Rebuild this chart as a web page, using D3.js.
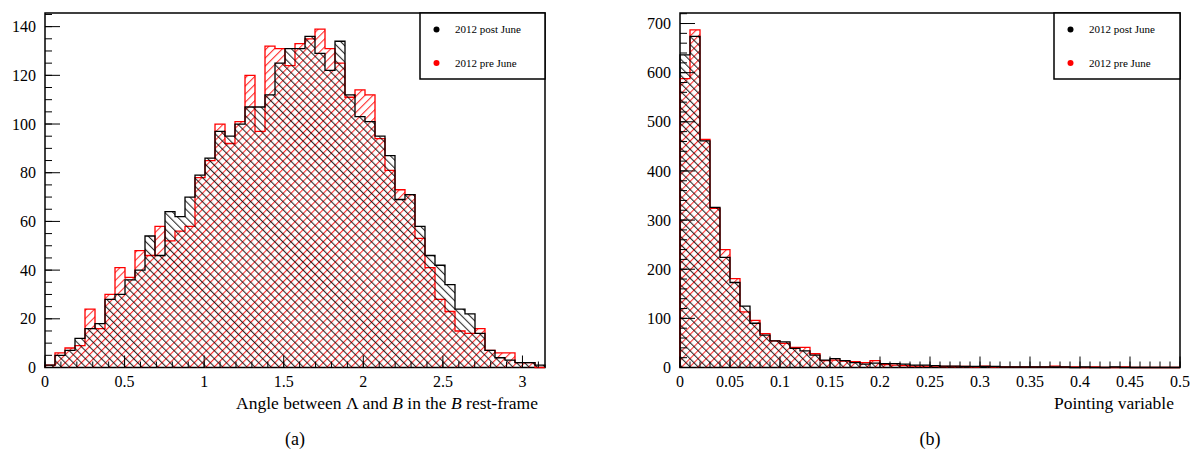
<!DOCTYPE html>
<html>
<head>
<meta charset="utf-8">
<script src="https://cdn.jsdelivr.net/npm/d3@7"></script>
<style>
  body { margin: 0; background: #fff; }
  svg { display: block; }
</style>
</head>
<body>
<svg id="chart" width="1192" height="454"></svg>
<script>
// ---- data -----------------------------------------------------------------
const seriesNames = ["2012 post June", "2012 pre June"];

// (a) angle between Lambda and B in the B rest frame, 50 bins over [0, pi]
const angleRange = [0, Math.PI];
const anglePostJune = [1, 5, 7, 12, 16, 18, 28, 30, 36, 40,
                       54, 46, 64, 62, 70, 79, 86, 97, 95, 100,
                       107, 107, 112, 125, 131, 131, 136, 129, 122, 134,
                       112, 103, 101, 95, 87, 69, 71, 58, 46, 42,
                       34, 24, 22, 14, 7, 4, 3, 2, 2, 1];
const anglePreJune  = [1, 6, 8, 9, 24, 16, 30, 41, 37, 48,
                       46, 58, 52, 56, 58, 78, 85, 100, 92, 101,
                       120, 97, 132, 131, 124, 133, 135, 139, 131, 125,
                       111, 114, 112, 94, 81, 73, 71, 53, 41, 28,
                       23, 15, 14, 16, 7, 6, 6, 2, 2, 0];
const angleXTicks = [0, 0.5, 1, 1.5, 2, 2.5, 3];
const angleYTicks = [0, 20, 40, 60, 80, 100, 120, 140];

// (b) pointing variable, 50 bins over [0, 0.5]
const pointingRange = [0, 0.5];
const pointingPostJune = [636, 674, 461, 326, 224, 173, 125, 90, 66, 54,
                          52, 39, 34, 25, 15, 18, 14, 10, 7, 9,
                          8, 8, 7, 5, 5, 4, 3, 3, 2, 2,
                          2, 2, 1, 1, 1, 1, 1, 1, 1, 0,
                          1, 0, 0, 1, 0, 0, 0, 0, 0, 0];
const pointingPreJune  = [588, 687, 464, 324, 240, 181, 113, 96, 69, 54,
                          49, 41, 41, 28, 14, 15, 13, 12, 10, 14,
                          6, 5, 4, 3, 3, 3, 2, 2, 2, 1,
                          3, 1, 1, 1, 1, 1, 1, 3, 1, 1,
                          0, 1, 0, 0, 1, 0, 0, 0, 0, 0];
const pointingXTicks = [0, 0.05, 0.1, 0.15, 0.2, 0.25, 0.3, 0.35, 0.4, 0.45, 0.5];
const pointingYTicks = [0, 100, 200, 300, 400, 500, 600, 700];

// ---- drawing --------------------------------------------------------------
const FONT = '"Liberation Serif"';
const svg = d3.select("#chart");
const defs = svg.append("defs");

// ROOT-style hatch fills: "\" for post June, "/" for pre June
function hatch(id, color, angle) {
  const p = defs.append("pattern")
    .attr("id", id)
    .attr("patternUnits", "userSpaceOnUse")
    .attr("width", 5.7).attr("height", 5.7)
    .attr("patternTransform", `rotate(${angle})`);
  p.append("line")
    .attr("x1", 0.6).attr("y1", -1).attr("x2", 0.6).attr("y2", 7)
    .attr("stroke", color).attr("stroke-width", 0.9);
}
hatch("hatchPost", "#000", -45);
hatch("hatchPre", "#f00", 45);

const fmt = v => String(+v.toFixed(3));

function panel(cfg) {
  const g = svg.append("g");
  const x = d3.scaleLinear().domain(cfg.xDomain).range([cfg.left, cfg.right]);
  const y = d3.scaleLinear().domain([0, cfg.yMax]).range([cfg.bottom, cfg.top]);

  // frame
  g.append("rect")
    .attr("x", cfg.left).attr("y", cfg.top)
    .attr("width", cfg.right - cfg.left).attr("height", cfg.bottom - cfg.top)
    .attr("fill", "none").attr("stroke", "#000").attr("stroke-width", 1.5);

  // step outline of a histogram
  const nb = cfg.series[0].length;
  const w = (cfg.xDomain[1] - cfg.xDomain[0]) / nb;
  const stepPath = vals => {
    const pts = [[cfg.xDomain[0], 0]];
    vals.forEach((v, i) => {
      pts.push([cfg.xDomain[0] + i * w, v]);
      pts.push([cfg.xDomain[0] + (i + 1) * w, v]);
    });
    pts.push([cfg.xDomain[1], 0]);
    return d3.line().x(d => x(d[0])).y(d => y(d[1]))(pts);
  };

  // pre June first, post June on top
  g.append("path").attr("d", stepPath(cfg.series[1]))
    .attr("fill", "url(#hatchPre)").attr("stroke", "#f00").attr("stroke-width", 1.3);
  g.append("path").attr("d", stepPath(cfg.series[0]))
    .attr("fill", "url(#hatchPost)").attr("stroke", "#000").attr("stroke-width", 1.3);

  // x axis ticks (inside the frame) and labels
  const xMinor = d3.range(0, Math.floor((cfg.xDomain[1] - cfg.xDomain[0]) / cfg.xMinorStep + 1e-6) + 1)
    .map(i => cfg.xDomain[0] + i * cfg.xMinorStep);
  g.selectAll(null).data(xMinor).join("line")
    .attr("x1", d => x(d)).attr("x2", d => x(d))
    .attr("y1", cfg.bottom).attr("y2", cfg.bottom - cfg.xMinorLen)
    .attr("stroke", "#000").attr("stroke-width", 1);
  g.selectAll(null).data(cfg.xTicks).join("line")
    .attr("x1", d => x(d)).attr("x2", d => x(d))
    .attr("y1", cfg.bottom).attr("y2", cfg.bottom - cfg.xMajorLen)
    .attr("stroke", "#000").attr("stroke-width", 1);
  g.selectAll(null).data(cfg.xTicks).join("text")
    .attr("x", d => x(d)).attr("y", cfg.bottom + 19)
    .attr("text-anchor", "middle").style("font-size", "16px")
    .text(fmt);

  // y axis ticks and labels
  const yMinor = d3.range(0, Math.floor(cfg.yMax / cfg.yMinorStep) + 1).map(i => i * cfg.yMinorStep);
  g.selectAll(null).data(yMinor).join("line")
    .attr("x1", cfg.left).attr("x2", cfg.left + cfg.yMinorLen)
    .attr("y1", d => y(d)).attr("y2", d => y(d))
    .attr("stroke", "#000").attr("stroke-width", 1);
  g.selectAll(null).data(cfg.yTicks).join("line")
    .attr("x1", cfg.left).attr("x2", cfg.left + cfg.yMajorLen)
    .attr("y1", d => y(d)).attr("y2", d => y(d))
    .attr("stroke", "#000").attr("stroke-width", 1);
  g.selectAll(null).data(cfg.yTicks).join("text")
    .attr("x", cfg.left - 9).attr("y", d => y(d)).attr("dy", "0.35em")
    .attr("text-anchor", "end").style("font-size", "16px")
    .text(fmt);

  // axis title
  const t = g.append("text")
    .attr("x", cfg.titleX).attr("y", 409)
    .attr("text-anchor", "end").style("font-size", "17.5px");
  cfg.title.forEach(([s, it]) => {
    const ts = t.append("tspan").text(s);
    if (it) ts.style("font-style", "italic");
  });

  // sub-figure label
  g.append("text")
    .attr("x", cfg.subX).attr("y", 445)
    .attr("text-anchor", "middle").style("font-size", "18px")
    .text(cfg.sub);

  // legend
  const lg = g.append("g");
  lg.append("rect")
    .attr("x", cfg.legendX).attr("y", cfg.top)
    .attr("width", cfg.right - cfg.legendX).attr("height", 66)
    .attr("fill", "#fff").attr("stroke", "#000").attr("stroke-width", 1.5);
  const colors = ["#000", "#f00"];
  seriesNames.forEach((name, i) => {
    const cy = cfg.top + 16.5 + i * 33.5;
    lg.append("circle")
      .attr("cx", cfg.legendX + 16.5).attr("cy", cy).attr("r", 3)
      .attr("fill", colors[i]);
    lg.append("text")
      .attr("x", cfg.legendX + 35).attr("y", cy).attr("dy", "0.35em")
      .style("font-size", "11px")
      .text(name);
  });
}

panel({
  left: 45, right: 545, top: 13, bottom: 367.5,
  xDomain: angleRange, yMax: 145.6,
  series: [anglePostJune, anglePreJune],
  xTicks: angleXTicks, xMinorStep: 0.1, xMajorLen: 12, xMinorLen: 6,
  yTicks: angleYTicks, yMinorStep: 5, yMajorLen: 15, yMinorLen: 7,
  title: [["Angle between \u039B and "], ["B", true], [" in the "], ["B", true], [" rest-frame"]],
  titleX: 538, sub: "(a)", subX: 295, legendX: 420
});

panel({
  left: 680, right: 1180, top: 13, bottom: 367.5,
  xDomain: pointingRange, yMax: 721.4,
  series: [pointingPostJune, pointingPreJune],
  xTicks: pointingXTicks, xMinorStep: 0.01, xMajorLen: 11, xMinorLen: 6,
  yTicks: pointingYTicks, yMinorStep: 20, yMajorLen: 15, yMinorLen: 7,
  title: [["Pointing variable"]],
  titleX: 1174, sub: "(b)", subX: 930, legendX: 1054
});

// serif face on every label
svg.selectAll("text, tspan").style("font-family", FONT);
</script>
</body>
</html>
